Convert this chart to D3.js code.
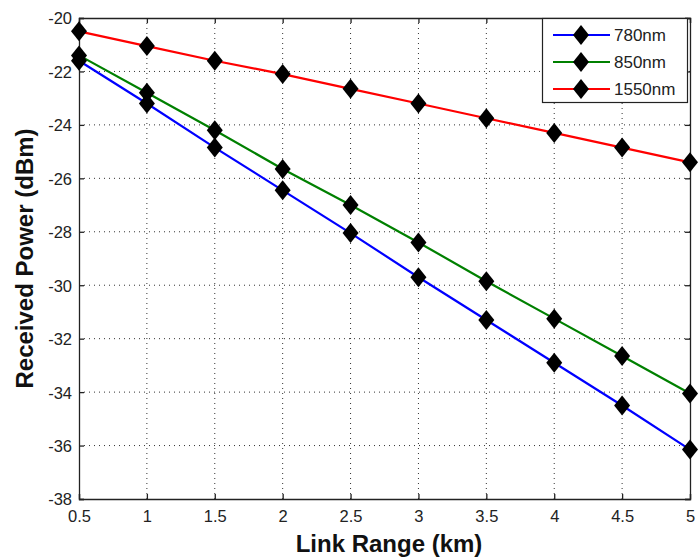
<!DOCTYPE html>
<html><head><meta charset="utf-8">
<script src="https://cdn.jsdelivr.net/npm/d3@7"></script>
<style>body{margin:0;background:#fff}svg{display:block}</style>
</head><body>
<script>
const linkRange = [0.5, 1, 1.5, 2, 2.5, 3, 3.5, 4, 4.5, 5];
const p780  = [-21.6, -23.2, -24.85, -26.45, -28.05, -29.7, -31.3, -32.9, -34.5, -36.15];
const p850  = [-21.4, -22.8, -24.2, -25.65, -27.0, -28.4, -29.85, -31.25, -32.65, -34.05];
const p1550 = [-20.5, -21.05, -21.6, -22.1, -22.65, -23.2, -23.75, -24.3, -24.85, -25.4];
const seriesNames = ["780nm", "850nm", "1550nm"];
const seriesColors = ["#0000ff", "#008000", "#ff0000"];
const xTicks = [0.5, 1, 1.5, 2, 2.5, 3, 3.5, 4, 4.5, 5];
const yTicks = [-20, -22, -24, -26, -28, -30, -32, -34, -36, -38];

const W = 698, H = 557;
const m = {l: 79, r: 8, t: 18, b: 58};
const svg = d3.select("body").append("svg").attr("width", W).attr("height", H);
const x = d3.scaleLinear().domain([0.5, 5]).range([m.l, W - m.r]);
const y = d3.scaleLinear().domain([-38, -20]).range([H - m.b, m.t]);
const font = "'Liberation Sans', Arial, sans-serif";
const fmt = d => String(d);

// grid
const g = svg.append("g");
g.selectAll(".gx").data(xTicks.slice(1, -1)).join("line")
  .attr("x1", d => x(d)).attr("x2", d => x(d)).attr("y1", m.t).attr("y2", H - m.b)
  .attr("stroke", "#333").attr("stroke-width", 1).attr("stroke-dasharray", "1,4");
g.selectAll(".gy").data(yTicks.slice(1, -1)).join("line")
  .attr("y1", d => y(d)).attr("y2", d => y(d)).attr("x1", m.l).attr("x2", W - m.r)
  .attr("stroke", "#333").attr("stroke-width", 1).attr("stroke-dasharray", "1,4");

// axes
const xb = svg.append("g").attr("transform", `translate(0,${H - m.b})`)
  .call(d3.axisBottom(x).tickValues(xTicks).tickSize(-5).tickPadding(8).tickFormat(fmt));
const xt = svg.append("g").attr("transform", `translate(0,${m.t})`)
  .call(d3.axisTop(x).tickValues(xTicks).tickSize(-5).tickFormat(""));
const yl = svg.append("g").attr("transform", `translate(${m.l},0)`)
  .call(d3.axisLeft(y).tickValues(yTicks).tickSize(-5).tickPadding(7).tickFormat(fmt));
const yr = svg.append("g").attr("transform", `translate(${W - m.r},0)`)
  .call(d3.axisRight(y).tickValues(yTicks).tickSize(-5).tickFormat(""));
[xb, xt, yl, yr].forEach(a => {
  a.selectAll("path,line").attr("stroke", "#222").attr("stroke-width", 1.3);
  a.selectAll("text").attr("font-family", font).attr("font-size", 16.5).attr("fill", "#222");
});
yl.selectAll("text").attr("dy", "0.36em");
xb.selectAll("text").attr("y", 0).attr("dy", 0).attr("transform", "translate(0,23)");

// series
const data = [p780, p850, p1550];
const line = d3.line().x((d, i) => x(linkRange[i])).y(d => y(d));
const diamond = (cx, cy) => `M${cx},${cy - 10}L${cx + 8},${cy}L${cx},${cy + 10}L${cx - 8},${cy}Z`;
data.forEach((s, k) => {
  svg.append("path").datum(s).attr("d", line).attr("fill", "none")
    .attr("stroke", seriesColors[k]).attr("stroke-width", 2.2);
});
data.forEach((s, k) => {
  svg.append("g").selectAll("path").data(s).join("path")
    .attr("d", (d, i) => diamond(x(linkRange[i]), y(d))).attr("fill", "#000");
});

// legend
const lg = svg.append("g");
lg.append("rect").attr("x", 542.5).attr("y", m.t + 0.5).attr("width", 145).attr("height", 84)
  .attr("fill", "#fff").attr("stroke", "#222").attr("stroke-width", 1.2);
seriesNames.forEach((n, k) => {
  const cy = 35 + k * 27;
  lg.append("line").attr("x1", 553).attr("x2", 610).attr("y1", cy).attr("y2", cy)
    .attr("stroke", seriesColors[k]).attr("stroke-width", 2.2);
  lg.append("path").attr("d", diamond(581, cy)).attr("fill", "#000");
  lg.append("text").attr("x", 614).attr("y", cy).attr("dy", "0.36em")
    .attr("font-family", font).attr("font-size", 17).attr("fill", "#222").text(n);
});

// axis labels
svg.append("text").attr("x", 389).attr("y", 552).attr("text-anchor", "middle")
  .attr("font-family", font).attr("font-size", 24).attr("font-weight", "bold").attr("fill", "#111")
  .text("Link Range (km)");
svg.append("text").attr("transform", `translate(33,${(m.t + H - m.b) / 2}) rotate(-90)`)
  .attr("text-anchor", "middle")
  .attr("font-family", font).attr("font-size", 24).attr("font-weight", "bold").attr("fill", "#111")
  .text("Received Power (dBm)");
</script>
</body></html>
